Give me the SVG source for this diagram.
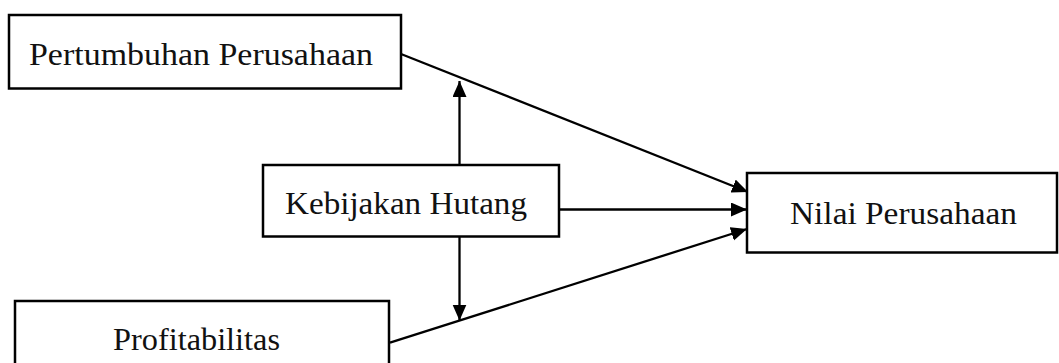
<svg xmlns="http://www.w3.org/2000/svg" width="1059" height="363" viewBox="0 0 1059 363">
<style>
.box{fill:#fff;stroke:#000;stroke-width:2.5}
.lbl{font-family:"Liberation Serif","DejaVu Serif",serif;font-size:31px;fill:#111}
.conn{stroke:#000;stroke-width:2.3;fill:none}
</style>
<defs>
<marker id="ah" markerUnits="userSpaceOnUse" markerWidth="17" markerHeight="15" refX="16" refY="7" orient="auto">
<path d="M0,0 L16,7 L0,14 z" fill="#000"/>
</marker>
</defs>
<rect width="1059" height="363" fill="#fff"/>
<g id="connectors">
<line class="conn" x1="401" y1="54" x2="748" y2="192" marker-end="url(#ah)"/>
<line class="conn" x1="559" y1="209.5" x2="747" y2="209.5" marker-end="url(#ah)"/>
<line class="conn" x1="390" y1="342.7" x2="747" y2="229" marker-end="url(#ah)"/>
<line class="conn" x1="459.5" y1="165" x2="459.5" y2="81" marker-end="url(#ah)"/>
<line class="conn" x1="459.5" y1="237" x2="459.5" y2="320.5" marker-end="url(#ah)"/>
</g>
<g id="pertumbuhan">
<rect class="box" x="9" y="15" width="392" height="73.5"/>
<text class="lbl" x="29" y="64.5" textLength="344" lengthAdjust="spacingAndGlyphs">Pertumbuhan Perusahaan</text>
</g>
<g id="kebijakan">
<rect class="box" x="263" y="165" width="296" height="71.5"/>
<text class="lbl" x="285" y="213.5" textLength="242" lengthAdjust="spacingAndGlyphs">Kebijakan Hutang</text>
</g>
<g id="nilai">
<rect class="box" x="747" y="173" width="310" height="79.5"/>
<text class="lbl" x="790" y="223.5" textLength="227" lengthAdjust="spacingAndGlyphs">Nilai Perusahaan</text>
</g>
<g id="profitabilitas">
<rect class="box" x="15" y="301" width="374" height="80"/>
<text class="lbl" x="113" y="349.5" textLength="167" lengthAdjust="spacingAndGlyphs">Profitabilitas</text>
</g>
</svg>
